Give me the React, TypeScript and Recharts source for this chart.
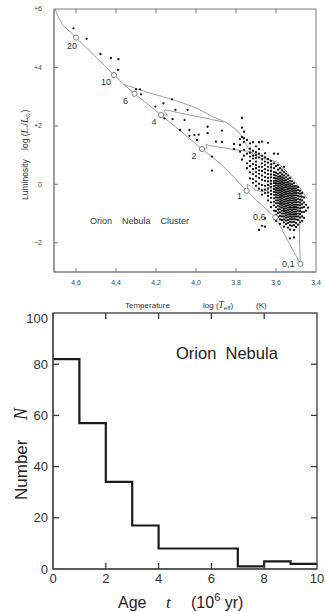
import React from "react";
import { ComposedChart, Line, Scatter, XAxis, YAxis } from "recharts";

const SANS = "'Liberation Sans', Arial, sans-serif";
const SERIF = "'Liberation Serif', 'Times New Roman', serif";

// ---- top panel: HR diagram ----
const tempDomain = [3.4, 4.71];
const lumDomain = [-3, 6];
const tempTicks = [4.6, 4.4, 4.2, 4.0, 3.8, 3.6, 3.4];
const lumTicks = [6, 4, 2, 0, -2];

// stellar masses marked on the main sequence
const massLabels = ["20", "10", "6", "4", "2", "1", "0,6", "0,1"];
const massT = [4.6, 4.41, 4.308, 4.175, 3.97, 3.747, 3.603, 3.478];
const massL = [5.02, 3.74, 3.1, 2.37, 1.21, -0.22, -1.13, -2.72];

const zamsT = [4.705, 4.69, 4.667, 4.6, 4.55, 4.5, 4.45, 4.41, 4.36, 4.308, 4.24, 4.175, 4.08, 3.97, 3.88, 3.81, 3.747, 3.67, 3.603, 3.54, 3.478];
const zamsL = [6.0, 5.75, 5.46, 5.02, 4.68, 4.35, 4.01, 3.74, 3.42, 3.1, 2.74, 2.37, 1.84, 1.21, 0.72, 0.24, -0.22, -0.72, -1.13, -1.94, -2.72];

const birthT = [4.36, 4.25, 4.12, 4.0, 3.92, 3.85, 3.8, 3.775, 3.755, 3.735, 3.71, 3.68, 3.64, 3.6, 3.57, 3.54, 3.5, 3.47, 3.445];
const birthL = [3.42, 3.16, 2.91, 2.62, 2.33, 2.12, 1.88, 1.68, 1.45, 1.2, 1.0, 0.9, 0.85, 0.78, 0.6, 0.38, 0.05, -0.22, -0.48];

const track4T = [3.86, 3.95, 4.03, 4.1, 4.155, 4.16, 4.142, 4.16, 4.175];
const track4L = [2.13, 2.26, 2.37, 2.47, 2.55, 2.5, 2.36, 2.38, 2.37];
const track2T = [3.62, 3.68, 3.74, 3.8, 3.88, 3.935, 3.95, 3.945, 3.955, 3.97];
const track2L = [0.8, 1.0, 1.13, 1.18, 1.27, 1.33, 1.38, 1.27, 1.19, 1.21];
const track1T = [3.62, 3.625, 3.63, 3.64, 3.67, 3.7, 3.73, 3.745, 3.74, 3.747];
const track1L = [0.75, 0.4, 0.0, -0.2, -0.25, -0.2, -0.05, 0.0, -0.15, -0.22];
const track06T = [3.57, 3.57, 3.572, 3.578, 3.588, 3.603];
const track06L = [0.6, 0.2, -0.3, -0.65, -0.9, -1.13];
const track01T = [3.47, 3.478, 3.482, 3.482, 3.478];
const track01L = [-0.22, -0.7, -1.3, -2.0, -2.72];

// isolated stars
const sparseT = [4.613, 4.547, 4.478, 4.425, 4.388, 4.39, 4.3, 4.28, 4.275, 4.203, 4.163, 4.12, 4.158, 4.103, 4.042, 4.117, 4.057, 4.08, 4.033, 4.033, 4.008, 3.987, 3.995, 3.942, 3.942, 3.87, 3.9, 3.92, 3.92, 3.81, 3.81, 3.87];
const sparseL = [5.34, 4.98, 4.46, 4.32, 4.28, 3.92, 3.25, 3.25, 3.08, 2.66, 2.77, 2.91, 2.26, 2.55, 2.55, 2.23, 2.2, 1.86, 1.86, 1.66, 1.69, 1.7, 1.52, 1.97, 1.75, 1.84, 1.46, 0.95, 0.47, 1.38, 1.2, 1.45];

// the cluster, read column by column (temperatures come in spectral-type steps)
const clusterT = [3.78, 3.77, 3.76, 3.745, 3.73, 3.715, 3.7, 3.685, 3.67, 3.655, 3.64, 3.625, 3.61, 3.6, 3.59, 3.58, 3.57, 3.56, 3.55, 3.54, 3.53, 3.52, 3.51, 3.5, 3.49, 3.48, 3.47, 3.46, 3.45, 3.44];
const clusterL = [
  [1.55, 1.35, 1.12],
  [2.27, 1.94, 1.62, 0.85],
  [1.8, 1.58, 1.45, 1.18, 0.98],
  [1.52, 1.05, 0.72, 0.55],
  [1.4, 1.22, 1.08, 0.95, 0.8, 0.62, 0.41, 0.2],
  [1.44, 1.15, 0.98, 0.88, 0.7, 0.52, 0.35, 0.18, 0.05],
  [1.3, 1.1, 1.0, 0.9, 0.78, 0.66, 0.55, 0.42, 0.28, 0.1, -0.05],
  [1.44, 1.2, 1.05, 0.92, 0.6, 0.48, 0.36, 0.22, 0.02, -0.15, -1.56],
  [1.46, 0.98, 0.85, 0.72, 0.6, 0.45, 0.3, 0.15, -0.02, -0.2, -0.35, -1.42],
  [1.06, 0.92, 0.78, 0.66, 0.52, 0.4, 0.25, 0.12, -0.05, -0.18, -0.3, -1.16, -1.45],
  [1.42, 0.86, 0.74, 0.6, 0.48, 0.35, 0.22, 0.1, -0.02, -0.15, -0.28, -0.4, -0.55],
  [0.8, 0.68, 0.58, 0.46, 0.34, 0.24, 0.12, 0.02, -0.1, -0.22, -0.34, -0.46, -0.62, -0.78],
  [1.05, 0.72, 0.55, 0.42, 0.32, 0.22, 0.12, 0.04, -0.06, -0.16, -0.26, -0.36, -0.48, -0.6, -0.72, -0.9],
  [0.62, 0.4, 0.3, 0.2, 0.12, 0.04, -0.04, -0.12, -0.2, -0.28, -0.36, -0.45, -0.55, -0.65, -0.78, -0.92, -1.05, -1.25],
  [1.04, 0.66, 0.5, 0.36, 0.26, 0.18, 0.1, 0.02, -0.06, -0.14, -0.22, -0.3, -0.38, -0.46, -0.55, -0.64, -0.74, -0.86, -0.98, -1.12],
  [0.55, 0.4, 0.28, 0.2, 0.12, 0.04, -0.04, -0.12, -0.2, -0.28, -0.36, -0.44, -0.52, -0.6, -0.68, -0.77, -0.86, -0.96, -1.08, -1.2, -1.35],
  [0.48, 0.34, 0.24, 0.16, 0.08, 0.0, -0.08, -0.16, -0.24, -0.32, -0.4, -0.48, -0.56, -0.64, -0.72, -0.8, -0.9, -1.0, -1.1, -1.22],
  [0.6, 0.42, 0.3, 0.2, 0.12, 0.04, -0.04, -0.12, -0.2, -0.28, -0.36, -0.44, -0.52, -0.6, -0.68, -0.76, -0.84, -0.92, -1.0, -1.1, -1.2, -1.3, -1.45],
  [0.36, 0.24, 0.14, 0.06, -0.02, -0.1, -0.18, -0.26, -0.34, -0.42, -0.5, -0.58, -0.66, -0.74, -0.82, -0.9, -0.98, -1.06, -1.14, -1.24, -1.36],
  [0.3, 0.18, 0.08, 0.0, -0.08, -0.16, -0.24, -0.32, -0.4, -0.48, -0.56, -0.64, -0.72, -0.8, -0.88, -0.96, -1.04, -1.12, -1.22, -1.32, -1.48],
  [0.22, 0.12, 0.02, -0.06, -0.14, -0.22, -0.3, -0.38, -0.46, -0.54, -0.62, -0.7, -0.78, -0.86, -0.94, -1.02, -1.1, -1.18, -1.28, -1.4, -1.55, -1.85],
  [0.1, 0.0, -0.08, -0.16, -0.24, -0.32, -0.4, -0.48, -0.56, -0.64, -0.72, -0.8, -0.88, -0.96, -1.04, -1.12, -1.2, -1.3, -1.42],
  [0.04, -0.06, -0.14, -0.22, -0.3, -0.38, -0.46, -0.54, -0.62, -0.7, -0.78, -0.86, -0.94, -1.02, -1.1, -1.18, -1.28, -1.4, -1.56, -1.82],
  [-0.06, -0.14, -0.22, -0.3, -0.38, -0.46, -0.54, -0.62, -0.7, -0.78, -0.86, -0.94, -1.02, -1.1, -1.2, -1.32, -1.46],
  [-0.1, -0.2, -0.3, -0.4, -0.5, -0.6, -0.7, -0.8, -0.9, -1.0, -1.1, -1.22, -1.38],
  [-0.22, -0.32, -0.42, -0.52, -0.62, -0.72, -0.82, -0.92, -1.02, -1.14, -1.3],
  [-0.3, -0.42, -0.55, -0.68, -0.8, -0.95, -1.1, -1.25],
  [-0.45, -0.62, -0.78, -0.95, -1.15],
  [-0.7, -0.9],
  [-0.8],
];

// ---- bottom panel: age histogram ----
const ageDomain = [0, 10];
const numDomain = [0, 100];
const ageEdges = [0, 1, 2, 3, 4, 5, 6, 7, 8, 9, 10];
const ageCounts = [82, 57, 34, 17, 8, 8, 8, 1, 3, 2];
const ageTicks = [0, 2, 4, 6, 8, 10];
const numTicks = [0, 20, 40, 60, 80, 100];

const pairs = (ts: number[], ls: number[]) => ts.map((t, i) => ({ x: t, y: ls[i] }));

const stars = [
  ...pairs(sparseT, sparseL),
  ...clusterT.flatMap((t, i) => clusterL[i].map((l) => ({ x: t, y: l }))),
];
const masses = massT.map((t, i) => ({ x: t, y: massL[i], label: massLabels[i] }));
const tracks = [
  pairs(zamsT, zamsL),
  pairs(birthT, birthL),
  pairs(track4T, track4L),
  pairs(track2T, track2L),
  pairs(track1T, track1L),
  pairs(track06T, track06L),
  pairs(track01T, track01L),
];
const histData = ageEdges.map((age, i) => ({ x: age, y: ageCounts[Math.min(i, ageCounts.length - 1)] }));

// plot boxes on the page (follow from the chart sizes, margins and axis widths below)
const HR_BOX = { left: 54, right: 316, top: 9, bottom: 272 };
const AGE_BOX = { left: 53, right: 317, top: 313, bottom: 569 };

// where each mass label sits relative to its circle
const LABEL_POS: Record<string, { dx: number; dy: number; anchor: "middle" | "end" }> = {
  "20": { dx: -4, dy: 11, anchor: "middle" },
  "10": { dx: -8, dy: 10, anchor: "middle" },
  "6": { dx: -9, dy: 10, anchor: "middle" },
  "4": { dx: -7, dy: 10, anchor: "middle" },
  "2": { dx: -8, dy: 10, anchor: "middle" },
  "1": { dx: -7, dy: 8, anchor: "middle" },
  "0,6": { dx: -10, dy: 3, anchor: "end" },
  "0,1": { dx: -6, dy: 3.5, anchor: "end" },
};

const fmtTemp = (v: number) => v.toFixed(1).replace(".", ",");
const fmtLum = (v: number) => (v > 0 ? `+${v}` : v < 0 ? `\u2212${-v}` : "0");

const StarDot = (p: any) => <circle cx={p.cx} cy={p.cy} r={1.15} fill="#111" />;

const MassMark = (p: any) => {
  const pos = LABEL_POS[p.payload.label];
  return (
    <g>
      <circle cx={p.cx} cy={p.cy} r={2.6} fill="#fff" stroke="#666" strokeWidth={0.8} />
      <text x={p.cx + pos.dx} y={p.cy + pos.dy} textAnchor={pos.anchor} fontSize={9} fill="#333" fontFamily={SANS}>
        {p.payload.label}
      </text>
    </g>
  );
};

// box with short inward ticks on all four sides
function Frame({ box, xd, yd, xt, yt, xReversed, len, color, width }: {
  box: { left: number; right: number; top: number; bottom: number };
  xd: number[]; yd: number[]; xt: number[]; yt: number[];
  xReversed?: boolean; len: number; color: string; width: number;
}) {
  const fx = (v: number) => {
    const f = (v - xd[0]) / (xd[1] - xd[0]);
    return box.left + (xReversed ? 1 - f : f) * (box.right - box.left);
  };
  const fy = (v: number) => box.bottom - ((v - yd[0]) / (yd[1] - yd[0])) * (box.bottom - box.top);
  const s = { stroke: color, strokeWidth: width };
  const els: React.ReactNode[] = [
    <rect key="box" x={box.left} y={box.top} width={box.right - box.left} height={box.bottom - box.top} fill="none" {...s} />,
  ];
  xt.forEach((v) => {
    els.push(<line key={`xb${v}`} x1={fx(v)} x2={fx(v)} y1={box.bottom} y2={box.bottom - len} {...s} />);
    els.push(<line key={`xt${v}`} x1={fx(v)} x2={fx(v)} y1={box.top} y2={box.top + len} {...s} />);
  });
  yt.forEach((v) => {
    els.push(<line key={`yl${v}`} x1={box.left} x2={box.left + len} y1={fy(v)} y2={fy(v)} {...s} />);
    els.push(<line key={`yr${v}`} x1={box.right} x2={box.right - len} y1={fy(v)} y2={fy(v)} {...s} />);
  });
  return <>{els}</>;
}

function HRPanel() {
  const tickStyle = { fill: "#444", fontSize: 7, fontFamily: SANS };
  return (
    <ComposedChart width={325} height={310} margin={{ top: 9, right: 9, bottom: 0, left: 0 }}>
      <XAxis type="number" dataKey="x" domain={tempDomain} reversed ticks={tempTicks} tickFormatter={fmtTemp}
        height={38} stroke="#7c7c7c" tickLine={false} tickSize={0} tickMargin={8} tick={tickStyle} />
      <YAxis type="number" dataKey="y" domain={lumDomain} ticks={lumTicks} tickFormatter={fmtLum}
        width={54} stroke="#7c7c7c" tickLine={false} tickSize={0} tickMargin={12} tick={tickStyle} />
      {tracks.map((d, i) => (
        <Line key={i} data={d} dataKey="y" type="linear" stroke="#808080" strokeWidth={0.75}
          dot={false} activeDot={false} isAnimationActive={false} />
      ))}
      <Scatter data={stars} dataKey="y" shape={StarDot} isAnimationActive={false} />
      <Scatter data={masses} dataKey="y" shape={MassMark} isAnimationActive={false} />
    </ComposedChart>
  );
}

function AgePanel() {
  const tickStyle = { fill: "#333", fontSize: 13, fontFamily: SANS };
  return (
    <ComposedChart width={325} height={302} margin={{ top: 3, right: 8, bottom: 0, left: 0 }}>
      <XAxis type="number" dataKey="x" domain={ageDomain} ticks={ageTicks} height={43}
        stroke="#3a3a3a" tickLine={false} tickSize={0} tickMargin={5} tick={tickStyle} />
      <YAxis type="number" dataKey="y" domain={numDomain} ticks={numTicks} width={53}
        stroke="#3a3a3a" tickLine={false} tickSize={0} tickMargin={5} tick={tickStyle} />
      <Line data={histData} dataKey="y" type="stepAfter" stroke="#1a1a1a" strokeWidth={2.2}
        dot={false} activeDot={false} isAnimationActive={false} />
    </ComposedChart>
  );
}

function Annotations() {
  return (
    <svg width={325} height={612} style={{ position: "absolute", left: 0, top: 0, pointerEvents: "none" }}>
      <Frame box={HR_BOX} xd={tempDomain} yd={lumDomain} xt={tempTicks.slice(0, 6)} yt={lumTicks.slice(1)}
        xReversed len={4} color="#7c7c7c" width={1} />
      <Frame box={AGE_BOX} xd={ageDomain} yd={numDomain} xt={ageTicks.slice(1, 5)} yt={numTicks.slice(1, 5)}
        len={6} color="#3a3a3a" width={1.3} />
      {/* top panel */}
      <text x={90} y={224} fontSize={9} fill="#333" fontFamily={SANS} style={{ whiteSpace: "pre" }}>
        {"Orion    Nebula    Cluster"}
      </text>
      <text transform="translate(28,200) rotate(-90)" fontSize={8.5} fill="#333" fontFamily={SANS} style={{ whiteSpace: "pre" }}>
        {"Luminosity    log ("}
        <tspan fontFamily={SERIF} fontStyle="italic" fontSize={10}>L</tspan>
        <tspan dy={2} fontSize={6}>*</tspan>
        <tspan dy={-2}>/</tspan>
        <tspan fontFamily={SERIF} fontStyle="italic" fontSize={10}>L</tspan>
        <tspan dy={2} fontSize={6}>{"\u2299"}</tspan>
        <tspan dy={-2}>)</tspan>
      </text>
      <text y={307.5} fontSize={8} fill="#333" fontFamily={SANS} style={{ whiteSpace: "pre" }}>
        <tspan x={125}>Temperature</tspan>
        <tspan x={203}>log (</tspan>
        <tspan fontFamily={SERIF} fontStyle="italic" fontSize={9.5}>T</tspan>
        <tspan dy={2} fontSize={6}>eff</tspan>
        <tspan dy={-2}>)</tspan>
        <tspan x={256}>(K)</tspan>
      </text>
      {/* bottom panel */}
      <text x={176} y={359} fontSize={16.5} fill="#222" fontFamily={SANS} style={{ whiteSpace: "pre" }}>
        {"Orion  Nebula"}
      </text>
      <text transform="translate(27,500) rotate(-90)" fontSize={17} fill="#222" fontFamily={SANS}>
        <tspan x={0}>Number</tspan>
        <tspan x={80} fontFamily={SERIF} fontStyle="italic" fontSize={18}>N</tspan>
      </text>
      <text y={608} fontSize={16} fill="#222" fontFamily={SANS} style={{ whiteSpace: "pre" }}>
        <tspan x={118}>Age</tspan>
        <tspan x={166} fontFamily={SERIF} fontStyle="italic" fontSize={17}>t</tspan>
        <tspan x={191}>(10</tspan>
        <tspan dy={-7} fontSize={11}>6</tspan>
        <tspan dy={7}>{" yr)"}</tspan>
      </text>
    </svg>
  );
}

export default function App() {
  return (
    <div style={{ position: "absolute", left: 0, top: 0, width: 325, height: 612, background: "#fff" }}>
      <div style={{ position: "absolute", left: 0, top: 0 }}>
        <HRPanel />
      </div>
      <div style={{ position: "absolute", left: 0, top: 310 }}>
        <AgePanel />
      </div>
      <Annotations />
    </div>
  );
}
